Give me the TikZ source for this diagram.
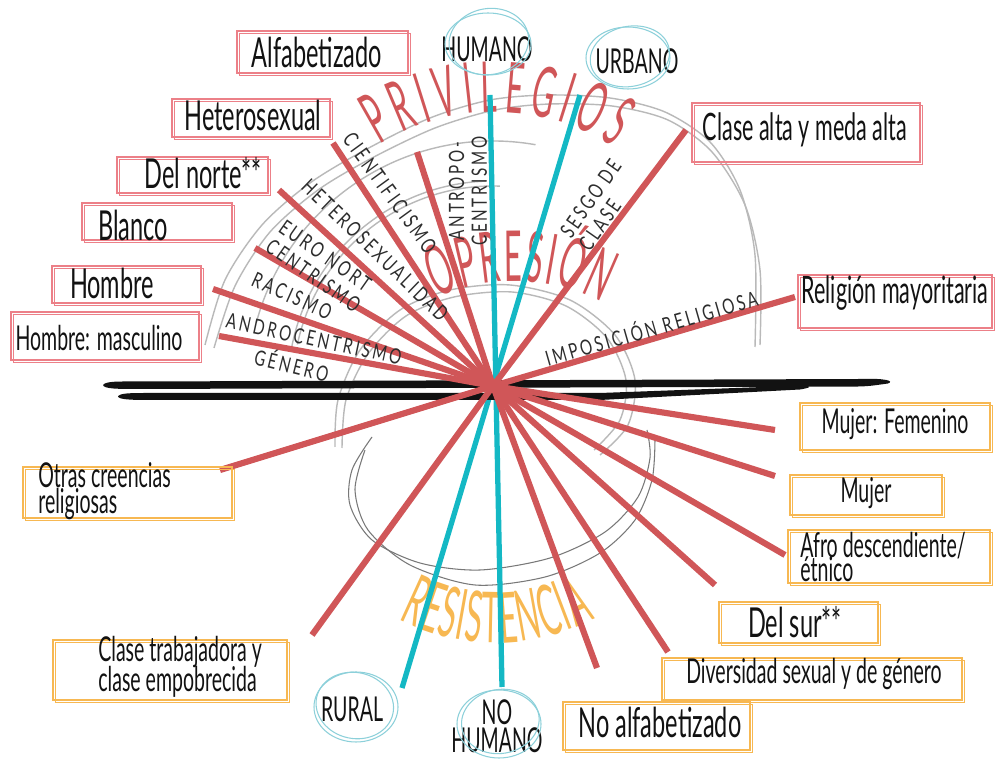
\documentclass[tikz,border=0pt]{standalone}
\usepackage{fontspec}
\setmainfont{Lato}[FakeStretch=0.57]
\newfontfamily\capsfont{Lato}[FakeStretch=0.72, LetterSpace=13]
\newfontfamily\bannerfont{Lato}[FakeStretch=0.44]
\usetikzlibrary{decorations.text,fit}

\definecolor{rojo}{RGB}{208,86,88}
\definecolor{cian}{RGB}{20,184,196}
\definecolor{cianclaro}{RGB}{140,208,218}
\definecolor{rosa}{RGB}{236,128,136}
\definecolor{naranja}{RGB}{247,184,82}
\definecolor{tinta}{RGB}{18,18,18}
\definecolor{texto}{RGB}{45,45,45}
\definecolor{lapiz}{RGB}{185,185,185}
\definecolor{lapizosc}{RGB}{120,120,120}

\newcommand{\tagbig}{\fontsize{23.5}{25}\selectfont}
\newcommand{\tagwide}{\fontsize{21.5}{23}\selectfont}
\newcommand{\tagmid}{\fontsize{19.5}{21}\selectfont}
\newcommand{\titlefont}{\bannerfont\fontsize{40}{42}\selectfont}
\newcommand{\axisfont}{\capsfont\fontsize{12}{13}\selectfont}

\begin{document}
\begin{tikzpicture}[
	x = 0.02cm, y = -0.02cm, % one unit = one pixel, y down
	spoke/.style={draw=rojo, line width=3.5pt},  % red rays
	axis/.style={draw=cian, line width=3pt},     % cyan rays
	tagbox/.style={draw=#1, line width=0.7pt, inner sep=0pt,
		preaction={draw=#1, line width=0.5pt, transform canvas={shift={(1.5pt,-1.3pt)}}}},
	big/.style={font=\tagbig, text=tinta, inner sep=0pt},
	mid/.style={font=\tagmid, text=tinta, inner sep=0pt},
	axislbl/.style={font=\axisfont, text=texto, inner sep=0pt, align=center},
	ring/.style={draw=cianclaro, line width=0.6pt},
	pencil/.style={draw=lapiz, line width=0.8pt},
	pencildark/.style={draw=lapizosc, line width=0.6pt},
	]

	\fill[white] (0,0) rectangle (995,759);
	\useasboundingbox (0,0) rectangle (995,759);

	% Pencil arcs
	\draw[pencil] plot[smooth] coordinates {(205,345) (225,280) (262,225) (310,183) (365,150) (430,118) (490,100) (548,95) (610,98) (665,112) (710,142) (740,190) (755,255) (755,347)};
	\draw[pencil] plot[smooth] coordinates {(214,348) (235,286) (270,232) (318,190) (372,158) (435,128) (495,110) (550,104) (612,106) (668,120) (712,152) (745,205) (760,270) (760,345)};
	\coordinate (c) at (493,386);
	\draw[pencil] (c) ++(-165:245) arc[start angle=-165, end angle=-80, radius=245];
	\draw[pencil] (c) ++(-168:200) arc[start angle=-168, end angle=-88, radius=200];
	\draw[pencil] (c) ++(-170:205) arc[start angle=-170, end angle=-92, radius=205];
	\draw[pencil] plot[smooth] coordinates {(335,447) (338,400) (360,350) (400,310) (450,290) (510,285) (570,300) (615,335) (635,380) (628,425) (600,455)};
	\draw[pencil] plot[smooth] coordinates {(342,448) (346,400) (368,354) (406,316) (454,297) (512,292) (566,306) (607,338) (626,380) (620,420) (594,450)};
	\draw[pencildark] plot[smooth] coordinates {(372,437) (352,470) (350,505) (372,540) (420,563) (480,570) (550,558) (605,532) (638,497) (650,458) (647,430)};
	\draw[pencildark] plot[smooth] coordinates {(365,450) (355,490) (368,530) (410,565) (475,585) (545,577) (600,553) (635,520) (652,480) (655,440)};

	% Titles along arcs
	\path (495,330) ++(-122:218) coordinate (privS);
	\path[decorate, decoration={text along path, text color=rojo, text align={fit to path},
		text={|\titlefont|PRIVILEGIOS}}] (privS) arc[start angle=-122, end angle=-57, radius=218];
	\path (515,473) ++(-114:192) coordinate (opreS);
	\path[decorate, decoration={text along path, text color=rojo, text align={fit to path},
		text={|\titlefont|OPRESIÓN}}] (opreS) arc[start angle=-114, end angle=-63, radius=192];
	\path (495,430) ++(117:213) coordinate (resiS);
	\path[decorate, decoration={text along path, text color=naranja, text align={fit to path},
		text={|\titlefont|RESISTENCIA}}] (resiS) arc[start angle=117, end angle=62, radius=213];

	% Ray ends
	\coordinate (humE)   at (490,95);
	\coordinate (nohumE) at (502,687);
	\coordinate (urbE)   at (580,95);
	\coordinate (rurE)   at (402,688);
	\coordinate (cienE)  at (333,143);
	\coordinate (antroE) at (417,152);
	\coordinate (hetE)   at (279,190);
	\coordinate (euroE)  at (255,248);
	\coordinate (racE)   at (213,289);
	\coordinate (andrE)  at (219,336);
	\coordinate (claseE) at (686,130);
	\coordinate (religE) at (795,297);
	\coordinate (femE)   at (775,430);
	\coordinate (mujerE) at (775,476);
	\coordinate (afroE)  at (785,555);
	\coordinate (surE)   at (715,585);
	\coordinate (divE)   at (668,652);
	\coordinate (noalfE) at (597,668);
	\coordinate (otrasE) at (220,470);
	\coordinate (trabE)  at (312,635);

	% Cyan axes
	\path[axis] (humE) edge (nohumE);
	\path[axis] (urbE) edge (rurE);

	% Black horizon strokes
	\fill[tinta] (103,385) .. controls (106,381) and (118,381.5) .. (140,381.5) -- (860,379) .. controls (885,378) and (895,381) .. (888,383.5) .. controls (870,386) .. (860,386.5) -- (140,389) .. controls (118,389) and (104,389) .. cycle;
	\fill[tinta] (118,396.5) .. controls (120,393) and (130,393) .. (150,393) -- (600,393) -- (790,386) .. controls (812,385) and (815,387) .. (800,389.5) -- (600,400) -- (150,400) .. controls (130,400) and (119,399.5) .. cycle;

	% Red rays
	\path[spoke] (c) edge (cienE);
	\path[spoke] (c) edge (antroE);
	\path[spoke] (c) edge (hetE);
	\path[spoke] (c) edge (euroE);
	\path[spoke] (c) edge (racE);
	\path[spoke] (c) edge (andrE);
	\path[spoke] (c) edge (claseE);
	\path[spoke] (c) edge (religE);
	\path[spoke] (c) edge (femE);
	\path[spoke] (c) edge (mujerE);
	\path[spoke] (c) edge (afroE);
	\path[spoke] (c) edge (surE);
	\path[spoke] (c) edge (divE);
	\path[spoke] (c) edge (noalfE);
	\path[spoke] (c) edge (otrasE);
	\path[spoke] (c) edge (trabE);

	% Labels on the rays
	\node[axislbl, rotate=-54] (cient) at (390,193) {CIENTIFICISMO};
	\node[axislbl, rotate=90] (antro) at (468,191) {ANTROPO-\\CENTRISMO};
	\node[axislbl, rotate=-44] (heterox) at (375,250) {HETEROSEXUALIDAD};
	\node[axislbl, rotate=-35, align=left] (euro) at (320,266) {EURO NORT\\CENTRISMO};
	\node[axislbl, rotate=-24] (racismo) at (292,296) {RACISMO};
	\node[axislbl, rotate=-12] (andro) at (314,339) {ANDROCENTRISMO};
	\node[axislbl, rotate=-14] (genero) at (292,364) {GÉNERO};
	\node[axislbl, rotate=55, align=left] (sesgo) at (600,205) {SESGO DE\\CLASE};
	\node[axislbl, rotate=16] (imposic) at (651,327) {IMPOSICIÓN RELIGIOSA};

	% Privilege boxes
	\node[tagbox=rosa, fit={(237,31) (408,73)}] (alfaBox) {};
	\node[tagbox=rosa, fit={(172,99) (330,137)}] (heteroBox) {};
	\node[tagbox=rosa, fit={(117,157) (268,193)}] (norteBox) {};
	\node[tagbox=rosa, fit={(82,203) (232,240)}] (blancoBox) {};
	\node[tagbox=rosa, fit={(52,266) (201,303)}] (hombreBox) {};
	\node[tagbox=rosa, fit={(11,312) (199,360)}] (mascBox) {};
	\node[tagbox=rosa, fit={(692,103) (920,162)}] (claseBox) {};
	\node[tagbox=rosa, fit={(798,275) (992,328)}] (religBox) {};
	\node[big] (alfa) at (317,52) {Alfabetizado};
	\node[big] (hetero) at (253,115) {Heterosexual};
	\node[big] (norte) at (203,173) {Del norte**};
	\node[big] (blanco) at (133,225) {Blanco};
	\node[big] (hombre) at (112,283) {Hombre};
	\node[mid] (masc) at (99,338) {Hombre: masculino};
	\node[big, font=\tagwide] (clase) at (805,130) {Clase alta y meda alta};
	\node[big, font=\tagwide] (relig) at (895,293) {Religión mayoritaria};

	% Resistance boxes
	\node[tagbox=naranja, fit={(800,403) (990,450)}] (femBox) {};
	\node[tagbox=naranja, fit={(790,475) (942,515)}] (mujerBox) {};
	\node[tagbox=naranja, fit={(788,530) (990,583)}] (afroBox) {};
	\node[tagbox=naranja, fit={(719,602) (878,643)}] (surBox) {};
	\node[tagbox=naranja, fit={(662,658) (962,700)}] (diverBox) {};
	\node[tagbox=naranja, fit={(563,702) (750,750)}] (noalfaBox) {};
	\node[tagbox=naranja, fit={(23,467) (232,518)}] (otrasBox) {};
	\node[tagbox=naranja, fit={(53,640) (287,700)}] (trabBox) {};
	\node[mid] (fem) at (895,424) {Mujer: Femenino};
	\node[mid] (mujer) at (866,493) {Mujer};
	\node[mid, align=left, anchor=west] (afro) at (800,557) {Afro descendiente/\\[-7pt] étnico};
	\node[big] (sur) at (795,622) {Del sur**};
	\node[mid] (diver) at (814,674) {Diversidad sexual y de género};
	\node[big] (noalfa) at (660,722) {No alfabetizado};
	\node[mid, align=left, anchor=west] (otras) at (38,491) {Otras creencias\\[-6pt]religiosas};
	\node[mid, align=left, anchor=west] (trab) at (98,667) {Clase trabajadora y\\[-4pt]clase empobrecida};

	% Axis ends, circled
	\node[mid] (humano) at (487,49) {HUMANO};
	\node[mid] (urbano) at (637,61) {URBANO};
	\node[mid] (rural) at (352,709) {RURAL};
	\node[mid, align=center] (nohumano) at (497,726) {NO\\[-5pt]HUMANO};
	\draw[ring] (humano.center) ++(1,-5) ellipse[x radius=43, y radius=31];
	\draw[ring, rotate around={10:(humano.center)}] (humano.center) ++(3,-7) ellipse[x radius=40, y radius=33];
	\draw[ring] (urbano.center) ++(-9,-3) ellipse[x radius=42, y radius=31];
	\draw[ring, rotate around={12:(urbano.center)}] (urbano.center) ++(-6,-6) ellipse[x radius=40, y radius=30];
	\draw[ring] (rural.center) ++(4,-2) ellipse[x radius=42, y radius=35];
	\draw[ring, rotate around={-12:(rural.center)}] (rural.center) ++(2,-4) ellipse[x radius=39, y radius=33];
	\draw[ring] (nohumano.center) ++(2,-2) ellipse[x radius=42, y radius=34];
	\draw[ring, rotate around={10:(nohumano.center)}] (nohumano.center) ++(4,-4) ellipse[x radius=39, y radius=32];

\end{tikzpicture}
\end{document}
